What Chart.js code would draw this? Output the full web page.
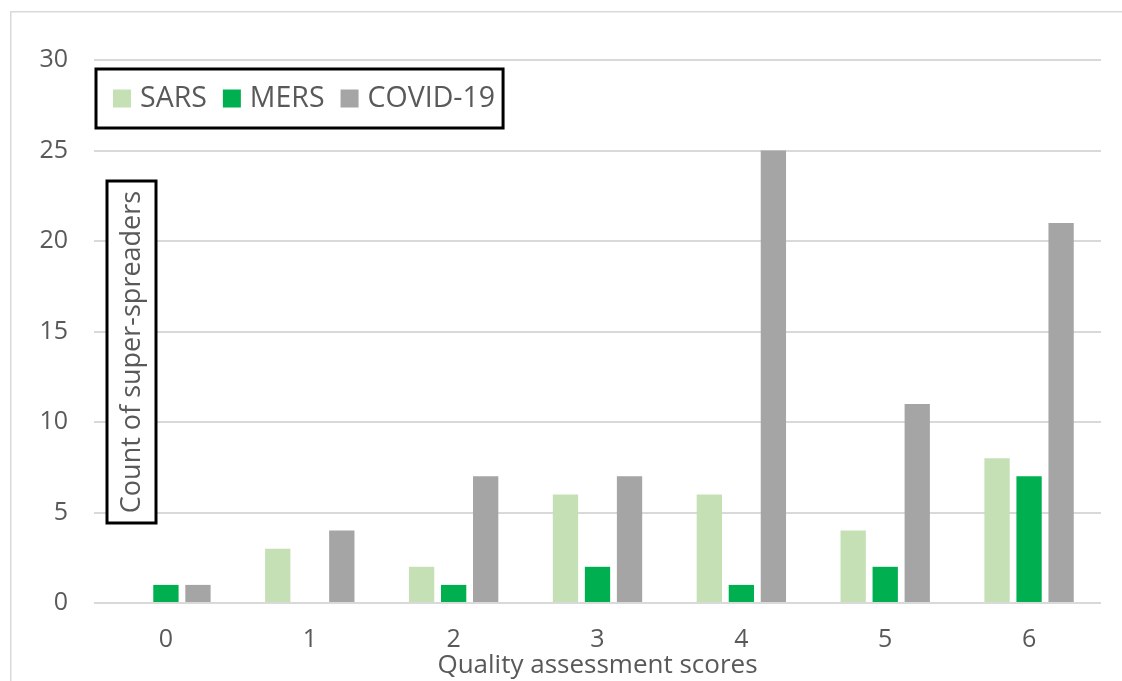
<!DOCTYPE html>
<html>
<head>
<meta charset="utf-8">
<script src="https://cdn.jsdelivr.net/npm/chart.js@4"></script>
<style>
  html, body { margin: 0; padding: 0; background: #ffffff; overflow: hidden; }
  #wrap { width: 1122px; height: 681px; }
</style>
</head>
<body>
<div id="wrap"><canvas id="c" width="1122" height="681"></canvas></div>
<script>
const categories = ['0', '1', '2', '3', '4', '5', '6'];
const sarsValues = [0, 3, 2, 6, 6, 4, 8];
const mersValues = [1, 0, 1, 2, 1, 2, 7];
const covidValues = [1, 4, 7, 7, 25, 11, 21];
const seriesNames = ['SARS', 'MERS', 'COVID-19'];
const seriesColors = ['#c5e0b4', '#00b050', '#a5a5a5'];
const yTickMax = 30;
const yTickStep = 5;
const xTitle = 'Quality assessment scores';
const yTitle = 'Count of super-spreaders';

const FONT = '"Open Sans", "Noto Sans", sans-serif';
const TEXT = '#595959';

const decorPlugin = {
  id: 'decor',
  beforeDraw(chart) {
    const ctx = chart.ctx;
    ctx.save();
    ctx.strokeStyle = '#d9d9d9';
    ctx.lineWidth = 1.5;
    ctx.beginPath();
    ctx.moveTo(10.75, chart.height + 5);
    ctx.lineTo(10.75, 11.75);
    ctx.lineTo(chart.width + 5, 11.75);
    ctx.stroke();
    ctx.restore();
  },
  afterDraw(chart) {
    const ctx = chart.ctx;
    const a = chart.chartArea;
    ctx.save();
    // legend box
    ctx.font = '28.5px ' + FONT;
    ctx.textBaseline = 'middle';
    ctx.textAlign = 'left';
    const lx = a.left + 2, ly = a.top + 9, lh = 59;
    let x = lx + 17;
    const cy = ly + lh / 2;
    const items = chart.data.datasets.map(d => ({ label: d.label, color: d.backgroundColor }));
    items.forEach((it, i) => {
      ctx.fillStyle = it.color;
      ctx.fillRect(x, cy - 9, 18, 18);
      x += 18 + 9;
      ctx.fillStyle = TEXT;
      ctx.fillText(it.label, x, cy);
      x += ctx.measureText(it.label).width + (i < items.length - 1 ? 16 : 8);
    });
    ctx.strokeStyle = '#000000';
    ctx.lineWidth = 3;
    ctx.strokeRect(lx, ly, x - lx, lh);

    // y title box
    const bx = a.left + 13, by = 181, bw = 49, bh = 342;
    ctx.fillStyle = '#ffffff';
    ctx.fillRect(bx, by, bw, bh);
    ctx.strokeRect(bx, by, bw, bh);
    ctx.translate(bx + bw / 2 + 1, by + bh / 2);
    ctx.rotate(-Math.PI / 2);
    ctx.font = '27px ' + FONT;
    ctx.textAlign = 'center';
    ctx.fillStyle = TEXT;
    ctx.fillText(yTitle, 0, 0);
    ctx.restore();
  }
};

const datasetsValues = [sarsValues, mersValues, covidValues];

new Chart(document.getElementById('c'), {
  type: 'bar',
  data: {
    labels: categories,
    datasets: datasetsValues.map((vals, i) => ({
      label: seriesNames[i],
      data: vals,
      backgroundColor: seriesColors[i],
      borderWidth: 0,
      categoryPercentage: 0.668,
      barPercentage: 0.79
    }))
  },
  options: {
    responsive: false,
    animation: false,
    devicePixelRatio: 1,
    layout: { padding: { top: 60, right: 21, bottom: 0, left: 0 } },
    plugins: {
      legend: { display: false },
      tooltip: { enabled: false }
    },
    scales: {
      x: {
        grid: { display: false, drawTicks: false },
        border: { display: false },
        ticks: { color: TEXT, font: { family: FONT, size: 25 }, padding: 22 },
        title: {
          display: true, text: xTitle, color: TEXT,
          font: { family: FONT, size: 26 }, padding: { top: 0, bottom: 0 }
        },
        afterFit(s) { s.height = 78; }
      },
      y: {
        min: 0, max: yTickMax,
        grid: { color: '#d9d9d9', lineWidth: 2, drawTicks: false },
        border: { display: false },
        ticks: { stepSize: yTickStep, color: TEXT, font: { family: FONT, size: 25 }, padding: 26 },
        afterFit(s) { s.width = 94; }
      }
    }
  },
  plugins: [decorPlugin]
});
</script>
</body>
</html>
